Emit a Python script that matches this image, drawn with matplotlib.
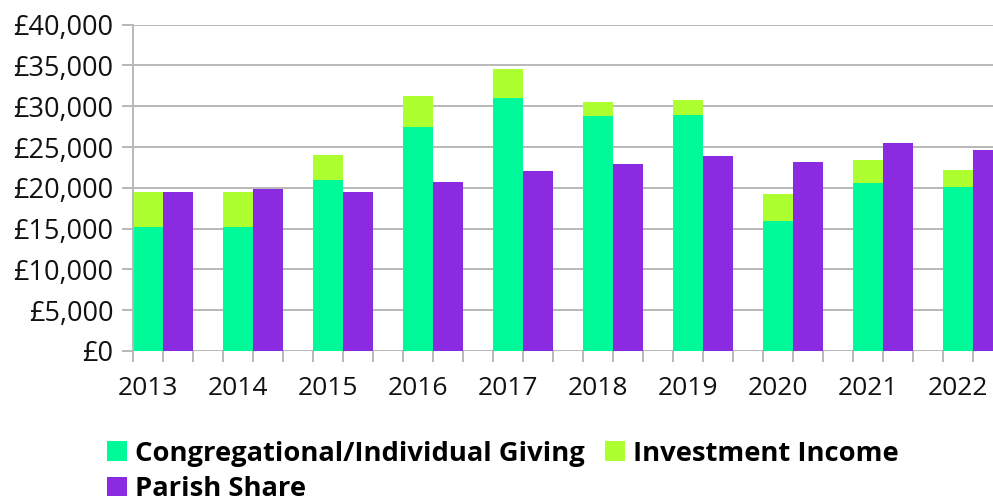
import matplotlib
matplotlib.use("Agg")
import matplotlib.pyplot as plt
import numpy as np

years = ["2013", "2014", "2015", "2016", "2017", "2018", "2019", "2020", "2021", "2022"]
giving = [15200, 15200, 21000, 27500, 31000, 28800, 28900, 15950, 20600, 20100]
investment = [4300, 4300, 3000, 3750, 3550, 1700, 1850, 3300, 2800, 2100]
parish_share = [19500, 19850, 19500, 20700, 22050, 22900, 23900, 23150, 25500, 24650]

c_giving = "#00FA9A"
c_invest = "#ADFF2F"
c_parish = "#8A2BE2"
grid_c = "#b8b8b8"

plt.rcParams['font.family'] = ['Open Sans', 'DejaVu Sans']

fig = plt.figure(figsize=(9.93, 4.99), dpi=100)
ax = fig.add_axes([0.1336, 0.2966, 0.8664, 0.6539])

n = len(years)
idx = np.arange(n)
xg = 3 * idx + 0.5
xp = 3 * idx + 1.5

hg = ax.bar(xg, giving, width=1.0, color=c_giving, linewidth=0, label="Congregational/Individual Giving")
hi = ax.bar(xg, investment, width=1.0, bottom=giving, color=c_invest, linewidth=0, label="Investment Income")
hp = ax.bar(xp, parish_share, width=1.0, color=c_parish, linewidth=0, label="Parish Share")

ax.set_xlim(0, 28.68)
ax.set_ylim(0, 40000)
ax.set_axisbelow(True)

yt = np.arange(0, 40001, 5000)
ax.set_yticks(yt)
ax.set_yticklabels([f"£{v:,}" for v in yt])
ax.yaxis.grid(True, color=grid_c, linewidth=1.4)
ax.tick_params(axis='y', length=8, width=1.4, color=grid_c, pad=6, labelsize=19.5, labelcolor='#111111')

ax.set_xticks(xg)
ax.set_xticklabels(years)
ax.set_xticks(np.arange(0, 29), minor=True)
ax.tick_params(axis='x', which='major', length=0, pad=18, labelsize=19, labelcolor='#111111')
ax.tick_params(axis='x', which='minor', length=8, width=1.4, color=grid_c)

for s in ['top', 'right', 'bottom']:
    ax.spines[s].set_visible(False)
ax.spines['left'].set_color(grid_c)
ax.spines['left'].set_linewidth(1.4)

leg = fig.legend([hg, hp, hi],
                 ["Congregational/Individual Giving", "Parish Share", "Investment Income"],
                 ncol=2, loc='upper left',
                 frameon=False, prop={'weight': 'bold', 'size': 19.7},
                 handlelength=0.72, handleheight=0.72, handletextpad=0.3,
                 columnspacing=0.75, labelspacing=0.35, borderaxespad=0, borderpad=0)
leg.set_bbox_to_anchor((0.108, 0.117), transform=fig.transFigure)

fig.savefig("out.png", dpi=100)
